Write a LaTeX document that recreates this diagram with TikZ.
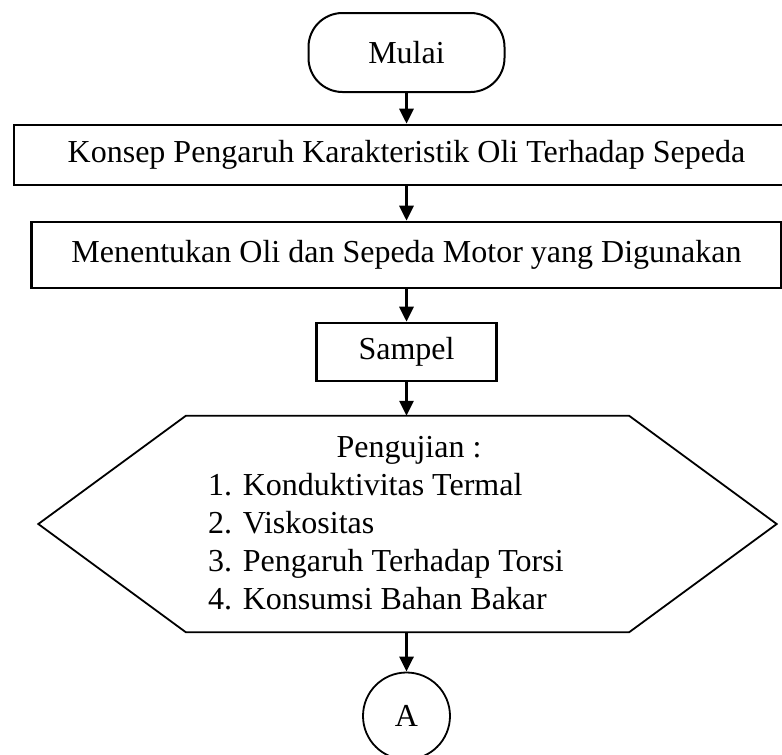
\documentclass[tikz,border=0pt]{standalone}
\usepackage{fontspec}
\setmainfont{Liberation Serif}
\usetikzlibrary{arrows.meta,calc}
\begin{document}
\begin{tikzpicture}[x=1pt,y=-1pt,
  every node/.style={font=\fontsize{32}{38}\selectfont, inner sep=0pt},
  terminal/.style={draw, line width=2pt, rounded corners=34pt,
    minimum width=196pt, minimum height=79pt},
  process/.style={draw, line width=2.6pt},
  connector/.style={draw, circle, line width=1.8pt, minimum size=87pt},
  flow/.style={line width=3pt, -{Triangle[length=15pt,width=14pt]}},
  listline/.style={anchor=base west},
  outline/.style={line width=1.8pt, line join=miter}
]
\useasboundingbox (0,0) rectangle (782,755);
\clip (0,0) rectangle (782,755);

% flowchart blocks
\node[terminal] (start) at (406.5,52.5) {Mulai};
\node[process, minimum width=785pt, minimum height=60pt] (konsep) at (406.5,155)
  {Konsep Pengaruh Karakteristik Oli Terhadap Sepeda};
\node[process, minimum width=750pt, minimum height=66pt] (pilih) at (406.5,255)
  {Menentukan Oli dan Sepeda Motor yang Digunakan};
\node[process, minimum width=180pt, minimum height=58pt] (sampel) at (406.5,352)
  {Sampel};

% testing block: hexagon around an invisible frame
\node[minimum width=738pt, minimum height=216pt] (uji) at (407.5,524) {};
\draw[outline] ($(uji.north west)+(147.5,0)$) -- ($(uji.north east)+(-147.5,0)$)
  -- (uji.east) -- ($(uji.south east)+(-147.5,0)$)
  -- ($(uji.south west)+(147.5,0)$) -- (uji.west) -- cycle;
\node[anchor=base] (ujiTitle) at (409,457) {Pengujian :};
\node[listline] (uji1) at (208,495) {1. Konduktivitas Termal};
\node[listline] (uji2) at (208,533) {2. Viskositas};
\node[listline] (uji3) at (208,571) {3. Pengaruh Terhadap Torsi};
\node[listline] (uji4) at (208,609) {4. Konsumsi Bahan Bakar};

% off-page connector
\node[connector] (conA) at (406.5,716) {A};

% arrows
\draw[flow] (start.south) -- (konsep.north);
\draw[flow] (konsep.south) -- (pilih.north);
\draw[flow] (pilih.south) -- (sampel.north);
\draw[flow] (sampel.south) -- (uji.north -| sampel.south);
\draw[flow] (uji.south -| conA.north) -- (conA.north);
\end{tikzpicture}
\end{document}
